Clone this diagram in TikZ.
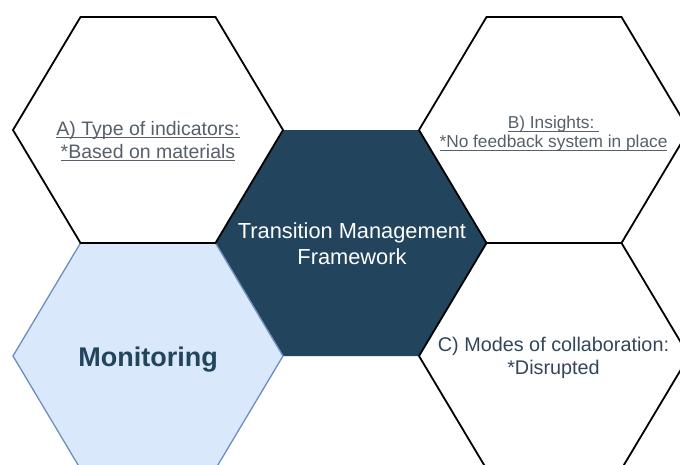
\documentclass[tikz,border=0pt]{standalone}
\usepackage{fontspec}
\setmainfont{Liberation Sans}
\definecolor{navy}{HTML}{23445D}
\definecolor{lightblue}{HTML}{DAE8FC}
\definecolor{bluestroke}{HTML}{6C8EBF}
\definecolor{graytext}{HTML}{56606B}
\definecolor{ctext}{HTML}{34465A}
\newcommand\myul[1]{\setbox0\hbox{#1}\rlap{\rule[-2.6pt]{\wd0}{1pt}}\box0}
\newcommand\hexat[3]{\path[#1] (#2-135,#3) -- (#2-67.5,#3-113) -- (#2+67.5,#3-113) -- (#2+135,#3) -- (#2+67.5,#3+113) -- (#2-67.5,#3+113) -- cycle;}
\tikzset{
  whitehex/.style={draw=black, fill=white, line width=1.8pt, line join=miter},
  darkhex/.style={fill=navy},
  lighthex/.style={draw=bluestroke, fill=lightblue, line width=1.3pt},
  lbl/.style={inner sep=0pt, align=center},
}
\begin{document}
\begin{tikzpicture}[x=1pt,y=-1pt]
\useasboundingbox (0,0) rectangle (680,464);
\begin{scope}
\clip (0,0) rectangle (680,464);
\hexat{darkhex}{351}{243}
\hexat{lighthex}{148}{356}
\hexat{whitehex}{148}{130}
\hexat{whitehex}{554}{130}
\hexat{whitehex}{554}{356}
\end{scope}
\node[lbl, text=graytext, font=\fontsize{19.5}{23.5}\selectfont] (a) at (148,141)
  {\myul{A) Type of indicators:}\\\myul{*Based on materials}};
\node[lbl, text=graytext, font=\fontsize{17.3}{19}\selectfont] (b) at (553.5,134)
  {\myul{B) Insights:\ }\\\myul{*No feedback system in place}};
\node[lbl, text=ctext, font=\fontsize{19.8}{22.5}\selectfont] (c) at (553.5,358)
  {C) Modes of collaboration:\\*Disrupted};
\node[lbl, text=white, font=\fontsize{21.8}{26}\selectfont] (tmf) at (352,244)
  {Transition Management\\Framework};
\node[lbl, text=navy, font=\bfseries\fontsize{27}{32}\selectfont] (mon) at (148,360)
  {Monitoring};
\end{tikzpicture}
\end{document}
